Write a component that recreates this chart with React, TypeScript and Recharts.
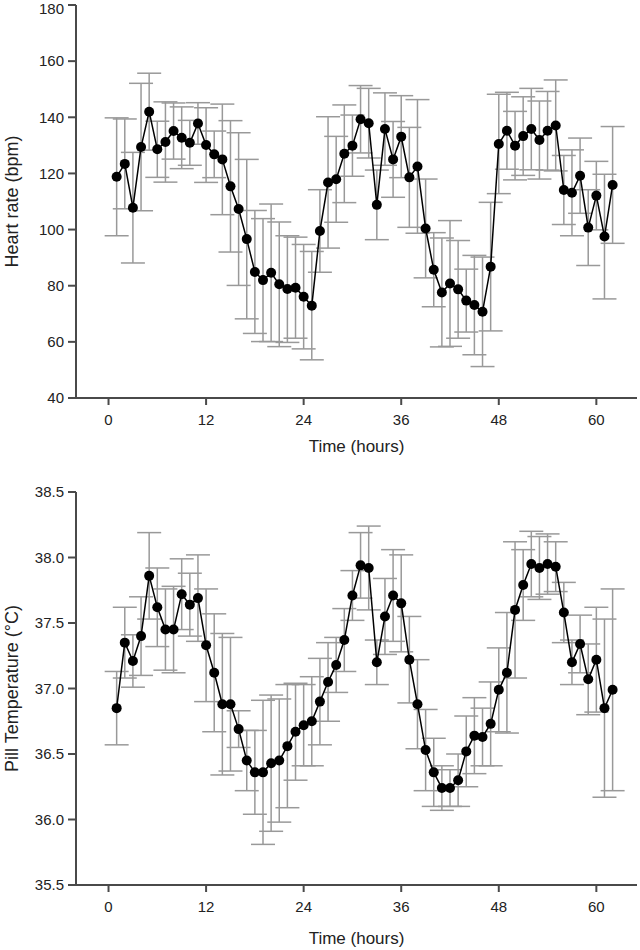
import React from "react";
import { LineChart, Line, XAxis, YAxis, ErrorBar } from "recharts";

const hours = [
  1, 2, 3, 4, 5, 6, 7, 8, 9, 10, 11, 12, 13, 14, 15, 16, 17, 18, 19, 20, 21,
  22, 23, 24, 25, 26, 27, 28, 29, 30, 31, 32, 33, 34, 35, 36, 37, 38, 39, 40,
  41, 42, 43, 44, 45, 46, 47, 48, 49, 50, 51, 52, 53, 54, 55, 56, 57, 58, 59,
  60, 61, 62,
];

const heartRate = [
  118.8, 123.4, 107.8, 129.4, 142.0, 128.6, 131.2, 135.1, 132.7, 130.9,
  137.8, 130.1, 126.8, 125.0, 115.4, 107.3, 96.6, 84.9, 82.0, 84.6,
  80.5, 78.8, 79.3, 76.1, 72.9, 99.5, 116.8, 117.9, 127.0, 129.9,
  139.3, 137.9, 108.8, 135.8, 125.0, 133.1, 118.6, 122.5, 100.4, 85.7,
  77.6, 80.8, 78.7, 74.7, 73.1, 70.7, 86.8, 130.5, 135.2, 129.9,
  133.3, 135.8, 131.9, 135.2, 137.1, 114.1, 113.1, 119.2, 100.7, 112.1,
  97.5, 115.9,
];

const heartRateErr = [
  21, 16, 19.7, 22.7, 13.7, 10, 14.3, 10, 11, 8,
  7.4, 13.3, 8.3, 19.7, 23.4, 27.2, 28.4, 21.9, 21.9, 24.5,
  22.2, 19, 18, 18.6, 19.3, 14.7, 23.4, 15.3, 17.4, 10.9,
  12, 12.4, 12.4, 12.9, 13.5, 14.6, 17.8, 23.8, 17.6, 13.2,
  19.4, 22.4, 17.4, 11.2, 17.7, 19.5, 22.9, 17.7, 13.7, 12.2,
  14, 14.5, 13.9, 14, 16.2, 12.3, 15.3, 13.4, 13.5, 12.2,
  22.2, 20.8,
];

const pillTemp = [
  36.85, 37.35, 37.21, 37.4, 37.86, 37.62, 37.45, 37.45, 37.72, 37.64,
  37.69, 37.33, 37.12, 36.88, 36.88, 36.69, 36.45, 36.36, 36.36, 36.43,
  36.45, 36.56, 36.67, 36.72, 36.75, 36.9, 37.05, 37.18, 37.37, 37.71,
  37.94, 37.92, 37.2, 37.55, 37.71, 37.65, 37.22, 36.88, 36.53, 36.36,
  36.24, 36.24, 36.3, 36.52, 36.64, 36.63, 36.73, 36.99, 37.12, 37.6,
  37.79, 37.95, 37.92, 37.95, 37.93, 37.58, 37.2, 37.34, 37.07, 37.22,
  36.85, 36.99,
];

const pillTempErr = [
  0.28, 0.27, 0.2, 0.3, 0.33, 0.3, 0.31, 0.33, 0.27, 0.24,
  0.33, 0.43, 0.45, 0.54, 0.51, 0.14, 0.23, 0.32, 0.55, 0.52,
  0.47, 0.47, 0.37, 0.31, 0.34, 0.33, 0.3, 0.21, 0.24, 0.19,
  0.25, 0.32, 0.17, 0.29, 0.35, 0.37, 0.33, 0.34, 0.31, 0.26,
  0.17, 0.14, 0.2, 0.27, 0.29, 0.22, 0.32, 0.32, 0.46, 0.52,
  0.27, 0.25, 0.24, 0.23, 0.19, 0.23, 0.17, 0.22, 0.27, 0.4,
  0.68, 0.77,
];

const timeTicks = [0, 12, 24, 36, 48, 60];
const hrTicks = [40, 60, 80, 100, 120, 140, 160, 180];
const tempTicks = [35.5, 36.0, 36.5, 37.0, 37.5, 38.0, 38.5];

const hrData = hours.map((h, i) => ({ hour: h, value: heartRate[i], err: heartRateErr[i] }));
const tempData = hours.map((h, i) => ({ hour: h, value: pillTemp[i], err: pillTempErr[i] }));

const FONT = "'Liberation Sans', Arial, sans-serif";
const AXIS = "#4a4a4a";
const tickStyle = { fontSize: 15, fill: "#222", fontFamily: FONT };

interface PanelProps {
  data: { hour: number; value: number; err: number }[];
  height: number;
  top: number;
  xLabelOffset: number;
  yDomain: [number, number];
  yTicks: number[];
  yLabel: string;
  fmt?: (v: number) => string;
}

const Panel: React.FC<PanelProps> = ({ data, height, top, xLabelOffset, yDomain, yTicks, yLabel, fmt }) => (
  <LineChart
    width={640}
    height={height}
    data={data}
    margin={{ top, right: 3, bottom: 0, left: 0 }}
  >
    <XAxis
      dataKey="hour"
      type="number"
      domain={[-4, 65]}
      ticks={timeTicks}
      allowDataOverflow
      tickSize={7}
      tickMargin={9}
      height={height - top - 393}
      stroke={AXIS}
      strokeWidth={2}
      tick={tickStyle}
      label={{
        value: "Time (hours)",
        position: "insideBottom",
        offset: xLabelOffset,
        style: { fontSize: 17, fill: "#222", fontFamily: FONT },
      }}
    />
    <YAxis
      type="number"
      domain={yDomain}
      ticks={yTicks}
      allowDataOverflow
      width={76}
      tickSize={8}
      tickMargin={4}
      stroke={AXIS}
      strokeWidth={2}
      tick={tickStyle}
      tickFormatter={fmt}
      label={{
        value: yLabel,
        angle: -90,
        position: "insideLeft",
        offset: 12,
        style: { fontSize: 18, fill: "#222", fontFamily: FONT, textAnchor: "middle" },
      }}
    />
    <Line
      dataKey="value"
      stroke="#000"
      strokeWidth={1.5}
      dot={{ r: 5, fill: "#000", stroke: "none" }}
      isAnimationActive={false}
    >
      <ErrorBar dataKey="err" direction="y" width={12} stroke="#999" strokeWidth={1.5} />
    </Line>
  </LineChart>
);

export default function App() {
  return (
    <div style={{ position: "absolute", left: 0, top: 0, width: 640, height: 950, background: "#fff" }}>
      <Panel
        data={hrData}
        height={460}
        top={5}
        xLabelOffset={8}
        yDomain={[40, 180]}
        yTicks={hrTicks}
        yLabel="Heart rate (bpm)"
      />
      <Panel
        data={tempData}
        height={490}
        top={32}
        xLabelOffset={6}
        yDomain={[35.5, 38.5]}
        yTicks={tempTicks}
        yLabel="Pill Temperature (°C)"
        fmt={(v) => v.toFixed(1)}
      />
    </div>
  );
}
